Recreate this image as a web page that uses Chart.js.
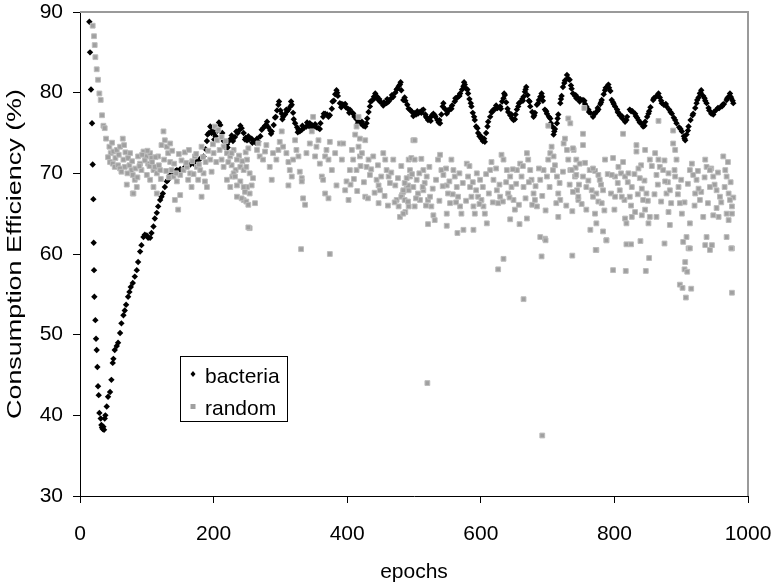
<!DOCTYPE html>
<html>
<head>
<meta charset="utf-8">
<script src="https://cdn.jsdelivr.net/npm/chart.js@4.4.1/dist/chart.umd.min.js"></script>
<style>
  html, body { margin: 0; padding: 0; background: #fff; }
  #wrap { width: 774px; height: 587px; }
</style>
</head>
<body>
<div id="wrap"><canvas id="myChart" width="774" height="587"></canvas></div>
<script>
const seriesNames = ["bacteria", "random"];
const xTicks = [0, 200, 400, 600, 800, 1000];
const yTicks = [30, 40, 50, 60, 70, 80, 90];
const xTitle = "epochs";
const yTitle = "Consumption Efficiency (%)";

// [epoch, efficiency %]
const bacteria = [
  [14,88.8],[15,85.0],[16.5,80.4],[18,76.2],[19,71.1],[20,66.8],[20.5,61.4],[21,58.0],[21.5,54.7],[23,51.8],
  [24,49.5],[25,48.1],[26,46.0],[27,43.6],[28,42.5],[29,40.3],[31,39.6],[32,38.8],[33,38.5],[34,38.3],
  [35,38.6],[36,38.2],[37,39.6],[38,40.0],[40,41.1],[42,42.3],[45,42.9],[47,44.4],[49,46.5],[50,47.0],
  [52,48.1],[55,48.6],[57,49.0],[60,50.2],[62,51.4],[65,52.4],[67,53.0],[69,53.7],[72,54.7],[74,55.3],
  [76,55.9],[79,56.4],[82,57.2],[85,58.0],[87,59.0],[90,60.3],[92,61.1],[95,62.1],[97,62.4],[100,62.3],
  [102,62.0],[105,62.0],[107,62.6],[110,63.4],[112,64.4],[115,65.1],[117,65.9],[120,66.7],[122,67.1],[124,67.5],
  [127,68.3],[130,69.0],[132,69.2],[135,69.8],[138,70.0],[140,70.2],[143,70.3],[145,70.4],[148,70.2],[150,70.5],
  [155,70.6],[160,70.9],[165,71.1],[170,71.2],[175,71.5],[180,71.8],[185,72.1],[188,73.0],[190,74.0],[193,75.0],
  [195,75.8],[198,75.3],[200,75.0],[203,74.6],[206,75.3],[210,76.0],[213,75.0],[217,73.3],[220,73.6],[223,74.0],
  [226,74.3],[229,74.0],[232,74.5],[236,75.0],[239,75.4],[242,75.6],[245,75.0],[248,74.4],[250,74.1],[253,74.2],
  [257,74.3],[260,74.0],[263,73.8],[267,73.9],[270,74.6],[274,75.6],[277,75.9],[279,76.0],[282,75.7],[285,75.3],
  [287,75.2],[290,76.0],[293,77.0],[295,77.8],[297,78.5],[300,77.8],[302,77.4],[304,77.0],[307,77.3],[310,77.7],
  [312,77.9],[315,78.3],[317,78.5],[319,77.5],[322,76.2],[325,75.7],[327,75.4],[329,75.2],[332,75.4],[335,75.6],
  [339,75.8],[342,76.0],[344,76.2],[347,76.0],[350,75.8],[354,75.7],[357,75.6],[360,76.2],[364,77.0],[367,77.4],
  [370,77.3],[374,77.2],[377,78.0],[380,79.0],[382,79.8],[384,80.3],[386,79.6],[389,78.7],[392,78.6],[395,78.5],
  [398,78.2],[401,78.0],[404,77.9],[408,77.5],[411,77.0],[414,76.7],[417,76.4],[420,76.2],[424,75.9],[427,75.8],
  [430,76.8],[432,77.6],[434,78.3],[437,79.0],[440,79.5],[442,79.9],[445,79.5],[447,79.1],[449,78.9],[452,78.7],
  [455,78.8],[459,78.7],[462,78.9],[466,79.3],[469,79.5],[472,80.0],[475,80.5],[477,80.8],[479,81.0],[481,80.3],
  [484,79.1],[487,79.0],[490,78.5],[494,77.9],[497,77.6],[500,77.5],[503,77.3],[506,77.4],[509,77.6],[512,77.8],
  [514,77.9],[517,77.3],[519,76.9],[521,76.6],[524,76.9],[527,77.2],[529,77.4],[532,77.0],[535,76.6],[537,76.3],
  [539,76.2],[541,77.3],[544,78.7],[546,78.0],[549,77.4],[551,77.7],[554,78.0],[557,78.4],[561,78.9],[564,79.3],
  [567,79.6],[569,79.9],[572,80.4],[574,80.8],[576,81.0],[578,80.5],[581,79.9],[583,79.2],[586,78.3],[588,77.5],
  [591,76.6],[593,75.8],[596,75.0],[598,74.6],[601,74.3],[603,74.0],[606,73.9],[608,75.0],[611,76.4],[614,77.0],
  [617,77.6],[619,77.9],[622,78.0],[625,78.1],[629,78.3],[632,78.9],[634,79.3],[636,79.7],[638,78.8],[641,77.6],
  [644,77.2],[647,76.8],[649,76.6],[652,77.3],[654,77.9],[656,78.3],[659,78.8],[662,79.2],[664,79.5],[666,80.1],
  [668,80.7],[670,79.7],[672,79.0],[674,78.3],[677,77.6],[679,77.0],[681,77.5],[684,78.5],[687,79.1],[689,79.5],
  [691,79.9],[693,79.0],[696,77.9],[699,77.4],[702,77.0],[704,76.8],[707,75.8],[709,74.8],[711,75.5],[714,76.2],
  [716,77.3],[719,78.7],[721,79.6],[723,80.7],[726,81.5],[729,82.2],[731,81.7],[733,81.6],[736,80.5],[738,79.9],
  [741,79.6],[743,79.3],[746,79.3],[749,79.2],[753,79.1],[756,78.6],[758,78.3],[761,77.9],[764,77.5],[768,77.0],
  [771,77.4],[774,77.7],[776,77.9],[779,78.6],[781,79.1],[784,79.8],[786,80.3],[789,80.7],[791,81.0],[794,80.2],
  [796,79.1],[799,78.6],[801,78.3],[804,77.9],[806,77.5],[808,77.2],[812,76.8],[816,76.4],[819,77.0],[823,77.9],
  [827,77.7],[831,77.4],[834,76.9],[836,76.6],[840,76.2],[843,75.8],[846,76.4],[849,77.0],[851,77.4],[854,78.2],
  [858,79.1],[862,79.5],[866,79.9],[868,79.4],[871,78.7],[874,78.5],[878,78.3],[882,77.9],[886,77.4],[889,76.9],
  [893,76.2],[897,75.7],[901,75.2],[904,74.6],[906,74.1],[908,74.8],[911,75.8],[914,76.6],[918,77.4],[921,78.1],
  [923,78.7],[926,79.4],[928,79.9],[930,80.3],[933,79.6],[936,79.0],[938,78.7],[941,78.1],[945,77.4],[949,77.6],
  [953,77.9],[957,78.1],[961,78.3],[964,78.6],[968,79.1],[971,79.5],[973,79.9],[975,79.3],[978,78.7],
  [191,74.8],[197,75.0],[201,74.2],[208,76.3],[215,74.0],[221,73.2],[227,74.7],[234,75.2],[240,75.9],[247,74.2],
  [252,74.6],[258,73.8],[265,74.3],[272,75.4],[280,76.4],[286,74.9],[292,76.9],[298,78.9],[303,76.7],[309,77.9],
  [316,78.9],[320,76.7],[326,75.1],[333,75.9],[340,76.3],[346,75.6],[352,76.1],[359,75.5],[365,77.4],[372,77.0],
  [378,78.9],[385,80.0],[391,78.2],[397,78.6],[403,77.5],[409,77.4],[416,76.2],[422,76.4],[429,76.2],[435,78.9],
  [441,79.3],[448,79.2],[454,78.4],[460,79.2],[467,79.7],[474,80.4],[480,81.3],[486,79.4],[492,78.0],[499,77.1],
  [505,77.7],[511,77.5],[518,77.0],[525,76.5],[531,77.2],[538,76.6],[543,78.3],[550,77.8],[556,78.0],[562,79.3],
  [568,79.6],[575,81.3],[580,80.4],[585,78.7],[590,77.0],[595,75.6],[600,74.6],[605,74.3],[610,75.8],[616,77.6],
  [623,78.4],[630,78.0],[635,79.9],[640,78.0],[646,77.3],[651,76.7],[657,78.7],[663,79.0],[667,80.4],[673,78.9],
  [680,77.2],[686,78.7],[692,79.5],[698,77.7],[705,76.2],[710,75.2],[715,76.8],[720,79.2],[725,81.2],[730,81.8],
  [735,80.9],[742,79.7],[748,78.9],[755,79.0],[762,77.6],[769,77.4],[775,78.1],[780,78.8],[787,80.6],[792,80.6],
  [798,78.8],[805,77.6],[811,77.1],[818,76.6],[825,77.7],[832,77.1],[838,76.3],[845,75.9],[852,77.7],[859,79.3],
  [865,79.6],[870,79.0],[877,78.6],[884,77.6],[891,76.6],[899,75.5],[905,74.3],[910,75.3],[917,77.2],[924,79.1],
  [929,80.0],[935,79.3],[942,77.8],[948,77.3],[955,78.1],[962,78.5],[969,79.3],[974,79.5],[977,79.0]
];

const random = [
  [19,88.3],[21,87.0],[22,85.9],[23,84.4],[25,82.9],[27,81.6],[29,79.9],[31,79.1],[33,77.2],[35,75.9],
  [37,75.6],[39,74.3],[44,73.3],[46,72.5],[50,72.7],[55,72.9],[60,73.3],[64,74.3],[66,73.5],[45,71.4],
  [49,71.2],[52,70.8],[57,71.0],[60,70.6],[65,71.7],[67,70.8],[72,71.9],[74,71.0],[77,70.4],[79,69.8],
  [82,69.2],[70,68.6],[85,68.3],[79,67.5],[87,72.1],[90,71.2],[92,70.4],[95,72.7],[99,72.1],[102,71.2],
  [105,72.5],[107,71.9],[110,70.4],[112,70.8],[115,70.0],[100,69.8],[105,69.2],[110,68.3],[117,72.1],[120,70.4],
  [122,73.5],[125,75.2],[127,74.1],[130,73.3],[132,72.5],[135,73.7],[135,71.4],[137,70.4],[140,69.6],[145,69.0],
  [150,69.8],[155,70.4],[160,70.8],[162,69.2],[165,70.0],[167,68.3],[172,72.1],[175,70.8],[177,69.2],[182,73.3],
  [185,70.0],[187,69.0],[190,68.3],[195,71.7],[202,75.8],[207,75.4],[205,74.1],[212,74.5],[200,72.5],[215,73.3],
  [220,72.5],[225,72.1],[227,71.0],[230,72.9],[250,71.7],[215,70.8],[220,69.2],[225,68.3],[235,67.1],[245,66.7],
  [240,69.0],[250,68.3],[80,67.5],[115,67.5],[142,66.7],[147,65.5],[150,67.3],[182,67.1],[254,63.2],
  [42,72.0],[48,73.8],[53,71.9],[58,72.3],[62,70.2],[68,72.6],[71,70.0],[75,72.5],[78,71.5],[83,70.6],
  [86,69.5],[89,70.9],[93,72.3],[97,71.6],[101,72.8],[104,70.9],[108,71.4],[113,72.0],[118,71.0],[121,69.3],
  [126,71.7],[129,70.3],[133,69.5],[138,72.8],[141,71.2],[144,70.0],[148,72.4],[152,71.6],[157,72.6],[159,71.3],
  [163,72.9],[168,71.5],[170,69.9],[174,72.4],[178,71.1],[180,70.4],[184,72.0],[188,71.4],[192,72.8],[197,70.2],
  [199,73.6],[204,71.4],[209,72.9],[212,71.7],[218,74.0],[222,71.4],[228,69.6],[233,70.4],[238,72.2],[243,71.5],
  [248,72.6],
  [227,72.5],[235,71.7],[240,70.8],[230,70.0],[232,69.6],[245,70.4],[249,70.8],[252,73.1],[254,70.0],[259,69.4],
  [235,68.5],[245,68.3],[247,67.7],[257,68.5],[254,67.5],[242,66.9],[249,66.5],[252,66.1],[262,66.3],[265,72.9],
  [267,73.7],[269,72.1],[274,71.7],[277,72.7],[279,73.5],[284,70.8],[287,69.2],[289,72.5],[294,71.7],[297,72.9],
  [299,73.9],[302,75.2],[304,73.3],[309,72.5],[312,71.4],[314,70.4],[317,69.6],[312,68.5],[319,71.7],[322,74.1],
  [324,72.9],[327,72.1],[329,70.2],[332,69.4],[334,66.9],[337,66.1],[332,69.0],[339,72.5],[344,73.7],[347,75.2],
  [349,77.0],[352,72.1],[354,73.3],[357,74.1],[359,71.2],[362,69.6],[364,69.2],[367,72.1],[369,72.9],[372,71.7],
  [374,73.9],[367,67.5],[372,66.9],[377,70.4],[382,72.5],[384,68.5],[389,73.7],[394,73.7],[392,71.7],[397,67.9],
  [399,69.0],[402,66.7],[404,70.4],[407,72.9],[409,71.7],[414,70.4],[417,73.3],[419,72.1],[422,72.5],[412,74.8],
  [414,75.8],[417,77.0],[419,74.3],[427,74.1],[429,70.8],[427,67.1],[432,71.7],[434,69.8],[439,72.1],[444,69.2],
  [447,68.5],[447,66.3],[449,67.9],[454,72.5],[457,71.7],[459,70.4],[462,69.6],[464,68.8],[469,71.7],[472,68.5],
  [474,66.7],[477,65.9],[479,64.6],[482,67.3],[484,67.7],[487,65.2],[492,65.9],[489,68.3],[492,71.7],[494,69.6],
  [492,67.9],[252,63.3],[331,60.6],[374,60.0],
  [499,74.1],[501,74.1],[496,71.9],[501,71.7],[511,71.8],[494,70.4],[489,69.4],[491,68.5],[484,67.9],[481,67.1],
  [486,66.7],[484,65.0],[499,68.3],[504,69.2],[506,67.5],[509,66.7],[501,65.9],[514,70.4],[519,69.6],[516,68.8],
  [514,67.9],[521,66.7],[524,67.1],[526,65.9],[529,64.8],[531,64.2],[521,63.7],[536,71.7],[539,72.3],[541,70.4],
  [544,69.8],[549,68.5],[551,67.5],[554,66.3],[549,65.0],[556,71.7],[559,70.4],[561,69.6],[564,68.3],[566,67.1],
  [569,65.9],[571,65.0],[574,63.0],[565,62.6],[579,71.2],[581,69.6],[584,68.3],[586,67.1],[589,65.9],[591,65.0],
  [589,63.0],[594,70.0],[599,69.2],[596,67.1],[601,66.7],[604,65.9],[606,65.0],[609,63.8],[614,70.4],[616,71.4],
  [619,69.2],[624,67.9],[629,67.1],[626,66.3],[631,72.3],[634,71.7],[639,70.4],[644,69.6],[641,67.5],[646,68.3],
  [649,66.7],[651,65.5],[644,64.3],[658,63.7],[654,70.4],[659,71.2],[661,69.6],[664,68.3],[669,72.5],[671,71.7],
  [674,70.4],[676,69.2],[669,64.4],[679,67.5],[681,66.7],[684,65.9],[689,69.2],[694,70.4],[699,69.6],[701,71.7],
  [704,72.5],[706,73.3],[709,72.1],[711,71.0],[714,69.6],[716,67.5],[719,66.7],[724,73.7],[726,74.3],[729,72.9],
  [731,71.7],[734,70.4],[739,72.9],[741,69.6],[744,67.9],[746,66.7],[731,76.8],[734,76.2],[716,64.6],[689,62.1],
  [696,61.9],[549,63.5],[701,75.9],
  [405,68.6],[410,69.3],[415,67.8],[420,70.9],[425,68.9],[431,66.9],[436,70.5],[441,67.6],[446,71.0],[451,69.6],
  [456,67.2],[461,66.0],[466,70.1],[471,66.4],[476,69.4],[481,70.9],[486,68.8],[491,66.5],[497,69.9],[503,66.9],
  [508,70.0],[513,68.3],[518,66.0],[523,70.8],[528,68.1],[533,69.2],[538,66.6],[543,68.4],[548,70.6],[553,69.0],
  [558,67.4],[563,66.4],[568,70.0],[573,68.8],[578,66.6],[583,70.9],[588,68.9],[593,67.9],[598,66.2],[603,68.3],
  [608,69.9],[612,67.5],[618,66.4],[623,70.6],[628,68.6],[633,66.5],[638,68.9],[643,67.0],[648,70.5],[653,68.7],
  [657,66.1],[663,70.9],[667,66.9],[672,68.9],[677,66.1],[682,68.4],[687,70.6],[692,67.2],[697,65.4],[703,68.3],
  [708,70.4],[713,66.3],[718,68.8],[723,70.2],[728,66.0],[733,68.6],[737,65.3],[742,70.7],[747,68.6],[751,66.2],
  [756,71.3],[761,69.1],[766,67.9],[771,70.3],[776,66.5],[780,68.6],[785,65.4],[790,69.9],[795,67.5],[800,65.5],
  [805,68.8],[810,70.0],[815,66.7],[820,68.9],[825,66.0],[830,69.9],[835,67.4],[840,71.0],[845,69.1],[850,66.6],
  [856,70.9],[860,67.4],[865,68.6],[870,66.5],[875,71.6],[880,68.9],[885,66.3],[890,70.4],[895,67.4],[900,69.2],
  [905,66.4],[910,68.7],[916,71.2],[920,66.0],[925,70.3],[930,67.7],[935,69.5],[940,66.3],[945,70.6],[950,68.6],
  [955,70.1],[960,66.4],[965,68.3],[970,71.4],[974,68.9],[978,67.0],
  [755,78.1],[813,74.9],[866,76.5],[888,75.3],[753,74.9],[753,73.5],[738,73.1],[743,71.7],[748,71.2],[736,70.4],
  [743,69.8],[753,69.6],[738,67.7],[746,67.1],[758,68.3],[763,70.4],[768,70.6],[776,69.8],[778,69.2],[783,67.9],
  [773,67.5],[768,67.1],[781,66.3],[771,65.0],[773,63.8],[758,65.5],[764,63.0],[783,62.8],[788,61.7],[773,60.5],
  [786,71.7],[798,71.9],[806,70.8],[801,69.6],[796,69.8],[813,71.4],[816,69.6],[808,67.9],[801,67.1],[811,67.1],
  [823,67.1],[826,68.3],[821,70.0],[833,73.5],[833,72.7],[836,70.6],[838,69.4],[841,68.1],[843,66.7],[848,67.5],
  [846,65.5],[841,64.8],[816,64.4],[818,63.8],[826,64.6],[831,65.2],[853,64.6],[851,63.8],[863,64.6],[881,65.2],
  [883,63.6],[846,72.9],[853,71.7],[861,72.5],[866,71.7],[868,70.8],[863,69.8],[873,70.4],[876,69.0],[878,67.5],
  [883,67.9],[881,70.0],[888,73.7],[891,72.9],[893,71.7],[891,69.6],[896,68.3],[898,66.3],[901,65.0],[913,63.8],
  [908,62.1],[911,60.7],[913,70.4],[918,69.8],[923,69.2],[926,68.1],[921,67.5],[928,66.7],[936,71.7],[938,70.8],
  [943,70.4],[948,69.6],[943,68.3],[953,67.9],[958,67.1],[963,72.1],[966,70.4],[968,69.6],[971,67.5],[973,66.7],
  [976,65.9],[968,65.0],[956,64.6],[971,64.2],[976,65.0],[953,65.7],[933,64.6],[948,64.8],[938,62.1],[946,61.1],
  [968,62.1],[976,60.7],[903,61.5],
  [634,59.4],[626,58.1],[691,59.7],[737,59.8],[772,60.5],[852,59.5],[798,58.0],[817,57.9],[847,57.9],[664,54.4],
  [520,44.0],[692,37.5],[906,59.0],[905,58.1],[909,57.8],[898,56.2],[902,55.8],[915,55.7],[907,54.6],[976,55.2],
  [975,60.7],[913,60.7],[936,61.1],[943,60.5],[875,61.3],[818,61.2],[825,61.2],[839,61.6],[788,61.7],[697,61.7]
];

const FONT = { family: "'Liberation Sans', Arial, sans-serif", size: 21 };

const toPoints = arr => arr.map(p => ({ x: p[0], y: p[1] }));

const plotFrame = {
  id: 'plotFrame',
  beforeDatasetsDraw(chart) {
    const { ctx, chartArea: a } = chart;
    ctx.save();
    ctx.strokeStyle = '#9a9a9a';
    ctx.lineWidth = 2;
    ctx.beginPath();
    ctx.moveTo(a.left, a.top);
    ctx.lineTo(a.right, a.top);
    ctx.lineTo(a.right, a.bottom);
    ctx.stroke();
    ctx.restore();
  }
};

// y title: the original is drawn long and narrow, so stretch it along its length
const yTitleDraw = {
  id: 'yTitleDraw',
  afterDraw(chart) {
    const { ctx, chartArea: a } = chart;
    ctx.save();
    ctx.font = '20px ' + FONT.family;
    ctx.fillStyle = '#000';
    ctx.textAlign = 'center';
    ctx.textBaseline = 'middle';
    const len = 330;
    const sx = len / ctx.measureText(yTitle).width;
    ctx.translate(15, (a.top + a.bottom) / 2);
    ctx.rotate(-Math.PI / 2);
    ctx.scale(sx, 1);
    ctx.fillText(yTitle, 0, 0);
    ctx.restore();
  }
};

const boxLegend = {
  id: 'boxLegend',
  afterDraw(chart) {
    const { ctx, chartArea: a } = chart;
    const left = a.left + 100, top = a.top + 344, w = 107, h = 65;
    ctx.save();
    ctx.fillStyle = '#fff';
    ctx.fillRect(left, top, w, h);
    ctx.strokeStyle = '#000';
    ctx.lineWidth = 1;
    ctx.strokeRect(left + 0.5, top + 0.5, w, h);
    ctx.font = FONT.size + 'px ' + FONT.family;
    ctx.fillStyle = '#000';
    ctx.textBaseline = 'middle';
    ctx.textAlign = 'left';
    const mx = left + 13;
    ctx.beginPath();
    ctx.moveTo(mx, top + 15); ctx.lineTo(mx + 2.5, top + 18); ctx.lineTo(mx, top + 21); ctx.lineTo(mx - 2.5, top + 18);
    ctx.closePath();
    ctx.fill();
    ctx.fillText(seriesNames[0], left + 25, top + 21);
    ctx.fillStyle = '#a0a0a0';
    ctx.fillRect(mx - 2.5, top + 48, 5, 5);
    ctx.fillStyle = '#000';
    ctx.fillText(seriesNames[1], left + 25, top + 53);
    ctx.restore();
  }
};

new Chart(document.getElementById('myChart'), {
  type: 'scatter',
  data: {
    datasets: [
      {
        label: seriesNames[0],
        data: toPoints(bacteria),
        pointStyle: 'rectRot',
        pointRadius: 3.2,
        pointBackgroundColor: '#000',
        pointBorderWidth: 0,
        order: 2,
        clip: false
      },
      {
        label: seriesNames[1],
        data: toPoints(random),
        pointStyle: 'rect',
        pointRadius: 3.4,
        pointBackgroundColor: '#a0a0a0',
        pointBorderColor: '#bdbdbd',
        pointBorderWidth: 1,
        order: 1,
        clip: false
      }
    ]
  },
  options: {
    responsive: false,
    animation: false,
    layout: { padding: { top: 12, right: 26, left: 0, bottom: 0 } },
    plugins: { legend: { display: false }, tooltip: { enabled: false } },
    scales: {
      x: {
        type: 'linear',
        min: 0, max: 1000,
        afterBuildTicks: s => { s.ticks = xTicks.map(v => ({ value: v })); },
        afterFit: s => { s.height = 91; s.paddingLeft = 0; s.paddingRight = 0; },
        grid: { drawOnChartArea: false, tickLength: 7, color: '#000' },
        border: { color: '#000', width: 1 },
        ticks: { color: '#000', font: FONT, padding: 19, maxRotation: 0, callback: v => String(v) },
        title: { display: true, text: xTitle, color: '#000', font: FONT, padding: { top: 0, bottom: 2 } }
      },
      y: {
        min: 30, max: 90,
        afterBuildTicks: s => { s.ticks = yTicks.map(v => ({ value: v })); },
        afterFit: s => { s.width = 80; s.paddingTop = 0; s.paddingBottom = 0; },
        grid: { drawOnChartArea: false, tickLength: 7, color: '#000' },
        border: { color: '#000', width: 1 },
        ticks: { color: '#000', font: FONT, padding: 10, callback: v => String(v) },
        title: { display: false }
      }
    }
  },
  plugins: [plotFrame, yTitleDraw, boxLegend]
});
</script>
</body>
</html>
